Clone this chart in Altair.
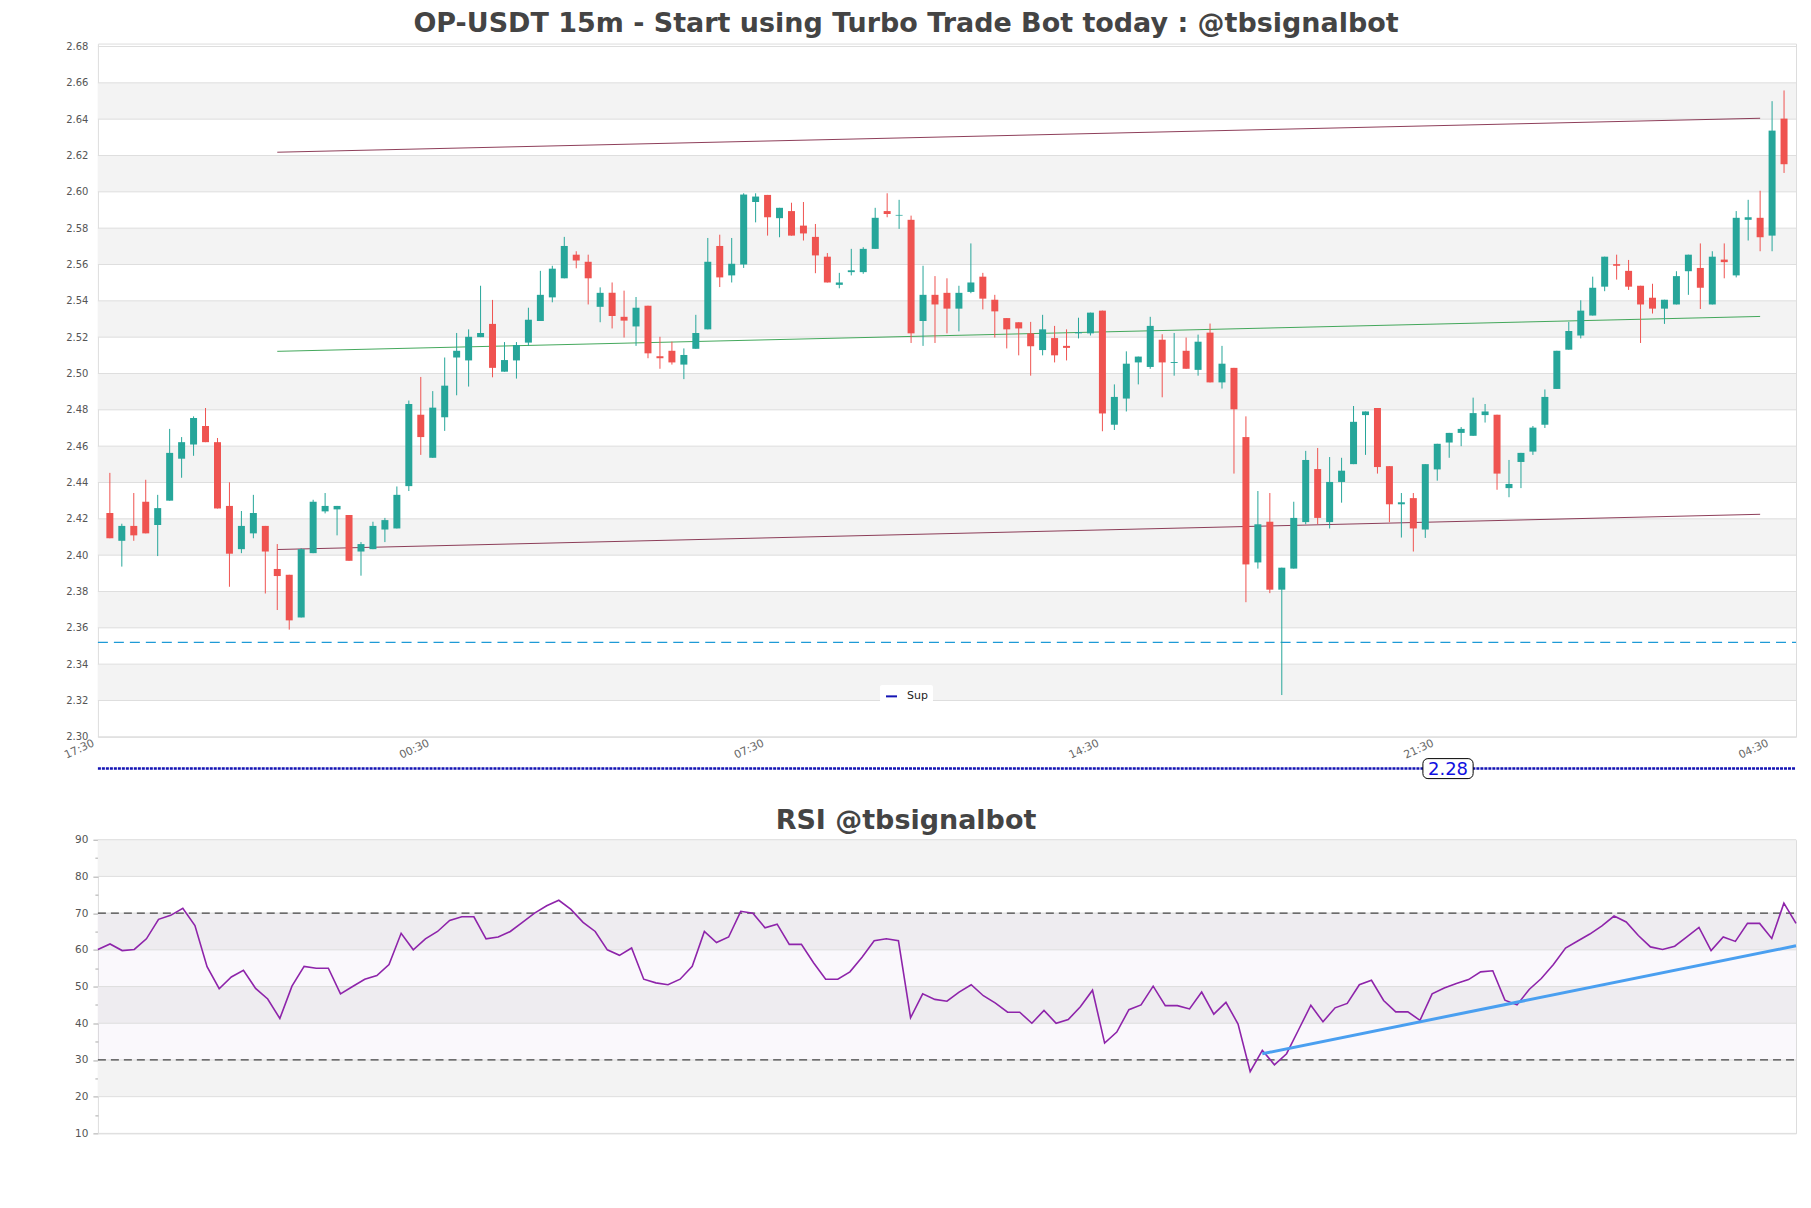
import altair as alt
import pandas as pd

TITLE = "OP-USDT 15m - Start using Turbo Trade Bot today : @tbsignalbot"
RSI_TITLE = "RSI @tbsignalbot"

opens = [2.4232, 2.4079, 2.4161, 2.4294, 2.4166, 2.4300, 2.4531, 2.4609, 2.4711, 2.4622,
         2.4271, 2.4033, 2.4120, 2.4161, 2.3924, 2.3892, 2.3657, 2.4011, 2.4241, 2.4252,
         2.4221, 2.4020, 2.4033, 2.4141, 2.4147, 2.4380, 2.4773, 2.4536, 2.4759, 2.5088,
         2.5072, 2.5200, 2.5273, 2.5010, 2.5072, 2.5170, 2.5289, 2.5419, 2.5524, 2.5654,
         2.5615, 2.5367, 2.5444, 2.5312, 2.5259, 2.5373, 2.5095, 2.5125, 2.5049, 2.5136,
         2.5243, 2.5702, 2.5540, 2.5600, 2.5944, 2.5983, 2.5855, 2.5894, 2.5814, 2.5752,
         2.5643, 2.5488, 2.5558, 2.5558, 2.5686, 2.5894, 2.5869, 2.5846, 2.5289, 2.5433,
         2.5444, 2.5357, 2.5449, 2.5533, 2.5406, 2.5305, 2.5282, 2.5221, 2.5129, 2.5195,
         2.5152, 2.5221, 2.5221, 2.5346, 2.4718, 2.4862, 2.5061, 2.5036, 2.5186, 2.5058,
         2.5125, 2.5020, 2.5225, 2.4951, 2.5031, 2.4650, 2.3960, 2.4184, 2.3810, 2.3926,
         2.4182, 2.4474, 2.4182, 2.4403, 2.4501, 2.4771, 2.4810, 2.4490, 2.4280, 2.4314,
         2.4141, 2.4472, 2.4620, 2.4673, 2.4657, 2.4771, 2.4773, 2.4369, 2.4513, 2.4570,
         2.4718, 2.4915, 2.5131, 2.5209, 2.5319, 2.5478, 2.5602, 2.5565, 2.5483, 2.5417,
         2.5357, 2.5380, 2.5563, 2.5581, 2.5380, 2.5627, 2.5540, 2.5846, 2.5857, 2.5759,
         2.6403]
highs = [2.4453, 2.4173, 2.4342, 2.4415, 2.4332, 2.4695, 2.4650, 2.4764, 2.4810, 2.4645,
         2.4401, 2.4243, 2.4332, 2.4161, 2.4061, 2.3892, 2.4038, 2.4305, 2.4342, 2.4271,
         2.4221, 2.4072, 2.4184, 2.4205, 2.4378, 2.4851, 2.4981, 2.4903, 2.5088, 2.5223,
         2.5243, 2.5483, 2.5405, 2.5173, 2.5173, 2.5362, 2.5565, 2.5593, 2.5752, 2.5673,
         2.5654, 2.5474, 2.5501, 2.5456, 2.5421, 2.5373, 2.5202, 2.5175, 2.5138, 2.5323,
         2.5746, 2.5764, 2.5746, 2.5992, 2.5992, 2.5983, 2.5912, 2.5940, 2.5944, 2.5823,
         2.5663, 2.5554, 2.5686, 2.5695, 2.5912, 2.5992, 2.5956, 2.5869, 2.5593, 2.5536,
         2.5524, 2.5483, 2.5716, 2.5554, 2.5433, 2.5305, 2.5282, 2.5284, 2.5323, 2.5262,
         2.5243, 2.5307, 2.5335, 2.5346, 2.4940, 2.5122, 2.5093, 2.5312, 2.5216, 2.5223,
         2.5198, 2.5214, 2.5275, 2.5152, 2.5031, 2.4764, 2.4353, 2.4342, 2.3931, 2.4294,
         2.4574, 2.4590, 2.4540, 2.4536, 2.4821, 2.4791, 2.4810, 2.4490, 2.4342, 2.4342,
         2.4501, 2.4613, 2.4673, 2.4705, 2.4867, 2.4832, 2.4773, 2.4524, 2.4563, 2.4711,
         2.4912, 2.5125, 2.5284, 2.5403, 2.5533, 2.5643, 2.5654, 2.5625, 2.5483, 2.5494,
         2.5406, 2.5563, 2.5654, 2.5716, 2.5673, 2.5716, 2.5894, 2.5956, 2.6006, 2.6499,
         2.6558]
lows = [2.4093, 2.3937, 2.4079, 2.4120, 2.3995, 2.4300, 2.4426, 2.4547, 2.4622, 2.4257,
        2.3826, 2.4011, 2.4093, 2.3789, 2.3698, 2.3590, 2.3657, 2.4011, 2.4230, 2.4109,
        2.3969, 2.3887, 2.4033, 2.4072, 2.4147, 2.4353, 2.4552, 2.4536, 2.4684, 2.4880,
        2.4928, 2.5200, 2.4979, 2.5010, 2.4972, 2.5152, 2.5289, 2.5392, 2.5524, 2.5579,
        2.5380, 2.5282, 2.5248, 2.5198, 2.5152, 2.5084, 2.5026, 2.5049, 2.4969, 2.5136,
        2.5243, 2.5476, 2.5501, 2.5581, 2.5832, 2.5759, 2.5750, 2.5759, 2.5732, 2.5552,
        2.5501, 2.5469, 2.5540, 2.5549, 2.5686, 2.5860, 2.5796, 2.5168, 2.5152, 2.5168,
        2.5221, 2.5232, 2.5442, 2.5353, 2.5198, 2.5138, 2.5100, 2.4988, 2.5100, 2.5061,
        2.5072, 2.5193, 2.5209, 2.4682, 2.4689, 2.4791, 2.4940, 2.5026, 2.4869, 2.4988,
        2.5026, 2.4988, 2.4951, 2.4917, 2.4449, 2.3741, 2.3926, 2.3791, 2.3230, 2.3926,
        2.4170, 2.4170, 2.4147, 2.4289, 2.4501, 2.4552, 2.4449, 2.4182, 2.4097, 2.4020,
        2.4095, 2.4410, 2.4536, 2.4600, 2.4657, 2.4730, 2.4360, 2.4319, 2.4369, 2.4552,
        2.4700, 2.4915, 2.5131, 2.5193, 2.5319, 2.5453, 2.5517, 2.5460, 2.5168, 2.5330,
        2.5273, 2.5380, 2.5433, 2.5355, 2.5380, 2.5524, 2.5529, 2.5732, 2.5673, 2.5673,
        2.6104]
closes = [2.4093, 2.4161, 2.4109, 2.4120, 2.4259, 2.4563, 2.4622, 2.4755, 2.4622, 2.4257,
          2.4008, 2.4161, 2.4232, 2.4020, 2.3885, 2.3641, 2.4033, 2.4294, 2.4271, 2.4271,
          2.3969, 2.4061, 2.4161, 2.4193, 2.4332, 2.4832, 2.4650, 2.4812, 2.4933, 2.5125,
          2.5202, 2.5223, 2.5031, 2.5074, 2.5157, 2.5296, 2.5433, 2.5577, 2.5702, 2.5622,
          2.5524, 2.5444, 2.5316, 2.5291, 2.5362, 2.5111, 2.5084, 2.5061, 2.5102, 2.5223,
          2.5615, 2.5529, 2.5604, 2.5985, 2.5974, 2.5860, 2.5912, 2.5759, 2.5771, 2.5650,
          2.5501, 2.5501, 2.5568, 2.5686, 2.5857, 2.5878, 2.5873, 2.5221, 2.5433, 2.5380,
          2.5357, 2.5444, 2.5501, 2.5412, 2.5342, 2.5243, 2.5248, 2.5150, 2.5243, 2.5100,
          2.5141, 2.5227, 2.5335, 2.4780, 2.4871, 2.5054, 2.5093, 2.5262, 2.5061, 2.5063,
          2.5026, 2.5175, 2.4951, 2.5054, 2.4803, 2.3949, 2.4170, 2.3810, 2.3931, 2.4205,
          2.4524, 2.4205, 2.4403, 2.4465, 2.4734, 2.4791, 2.4485, 2.4280, 2.4291, 2.4147,
          2.4501, 2.4613, 2.4673, 2.4695, 2.4782, 2.4791, 2.4449, 2.4392, 2.4563, 2.4702,
          2.4871, 2.5125, 2.5234, 2.5346, 2.5472, 2.5643, 2.5593, 2.5478, 2.5380, 2.5357,
          2.5406, 2.5536, 2.5654, 2.5472, 2.5643, 2.5613, 2.5857, 2.5860, 2.5750, 2.6337,
          2.6152]

rsi_values = [60.1, 61.6, 59.8, 60.1, 63.0, 68.3, 69.4, 71.3, 66.6, 55.4,
              49.4, 52.6, 54.4, 49.5, 46.6, 41.3, 50.1, 55.5, 55.0, 55.0,
              48.0, 50.0, 52.0, 53.0, 56.0, 64.5, 60.0, 63.0, 65.0, 68.0,
              69.0, 69.0, 63.0, 63.5, 65.0, 67.5, 70.0, 72.0, 73.5, 71.0,
              67.5, 65.0, 60.0, 58.5, 60.5, 52.0, 51.0, 50.5, 52.0, 55.5,
              65.0, 62.0, 63.5, 70.5, 70.0, 66.0, 67.0, 61.5, 61.5, 56.5,
              52.0, 52.0, 54.0, 58.0, 62.5, 63.0, 62.5, 41.5, 48.0, 46.5,
              46.0, 48.5, 50.5, 47.5, 45.5, 43.0, 43.0, 40.0, 43.5, 40.0,
              41.0, 44.5, 49.0, 34.6, 37.6, 43.7, 45.0, 50.1, 44.8, 44.8,
              43.9, 48.5, 42.5, 45.7, 39.8, 26.8, 32.6, 28.7, 31.7, 38.3,
              44.9, 40.4, 44.2, 45.4, 50.5, 51.7, 46.2, 43.1, 43.1, 40.8,
              48.0, 49.6, 50.8, 51.9, 54.0, 54.3, 46.3, 45.0, 49.2, 52.2,
              56.0, 60.5, 62.4, 64.3, 66.5, 69.2, 67.6, 63.9, 60.8, 60.1,
              61.0, 63.5, 66.1, 59.8, 63.5, 62.3, 67.2, 67.2, 63.1, 72.7,
              67.2]

time_tick_pos = [-1, 27, 55, 83, 111, 139]
time_tick_labels = ["17:30", "00:30", "07:30", "14:30", "21:30", "04:30"]

price_ticks = [2.30, 2.32, 2.34, 2.36, 2.38, 2.40, 2.42, 2.44, 2.46, 2.48,
               2.50, 2.52, 2.54, 2.56, 2.58, 2.60, 2.62, 2.64, 2.66, 2.68]
price_band_lows = [2.32, 2.36, 2.40, 2.44, 2.48, 2.52, 2.56, 2.60, 2.64]
price_domain = [2.30, 2.6816]

upper_line_i = [14, 138]
upper_line_p = [2.6218, 2.6405]
mid_line_i = [14, 138]
mid_line_p = [2.5122, 2.5314]
lower_line_i = [14, 138]
lower_line_p = [2.4031, 2.4225]

sup_level = 2.352
low_level = 2.2825
low_label = "2.28"
low_label_i = 111.9

rsi_ticks = [10, 15, 20, 25, 30, 35, 40, 45, 50, 55, 60, 65, 70, 75, 80, 85, 90]
rsi_grid = [10, 20, 30, 40, 50, 60, 70, 80, 90]
rsi_band_lows = [20, 40, 60, 80]
rsi_levels = [30, 70]
rsi_trend_i = [96, 140]
rsi_trend_v = [31.7, 61.1]

W = 1700
H_MAIN = 694
H_RSI = 294
UP = "#26a69a"
DOWN = "#ef5350"

n = len(closes)
candles = pd.DataFrame({"i": list(range(n)), "open": opens, "high": highs,
                        "low": lows, "close": closes})

xs_main = alt.Scale(domain=[-1, 141], nice=False, zero=False, padding=0)
ys_main = alt.Scale(domain=price_domain, nice=False, zero=False, padding=0)

label_expr = " : ".join(
    f"datum.value == {p} ? '{l}'" for p, l in zip(time_tick_pos, time_tick_labels)
) + " : ''"

x_axis_main = alt.Axis(values=time_tick_pos, tickCount=len(time_tick_pos) * 4,
                       labelExpr=label_expr, labelAngle=-25,
                       labelAlign="right", labelBaseline="top", ticks=False,
                       domain=False, grid=False, labelFontSize=11, labelColor="#666",
                       labelPadding=0, labelOffset=-7, labelOverlap=False, title=None,
                       labelFont="DejaVu Sans")
y_axis_main = alt.Axis(values=price_ticks, tickCount=len(price_ticks) * 4,
                       format=".2f", grid=False, ticks=False,
                       domain=False, labelPadding=10, labelFontSize=10, labelColor="#555",
                       labelOverlap=False, minExtent=40, maxExtent=40, title=None,
                       labelFont="DejaVu Sans")


def py(field):
    return alt.Y(field, scale=ys_main, axis=y_axis_main)


def px(field):
    return alt.X(field, scale=xs_main, axis=x_axis_main)


bands = alt.Chart(pd.DataFrame({"lo": price_band_lows})).transform_calculate(
    hi="datum.lo + 0.02"
).mark_rect(color="#f3f3f3").encode(
    x=alt.value(0), x2=alt.value(W), y=py("lo:Q"), y2="hi:Q",
)

grid = alt.Chart(pd.DataFrame({"p": price_ticks})).mark_rule(
    color="#dedede", strokeWidth=1
).encode(y=py("p:Q"), x=alt.value(0), x2=alt.value(W))

sup = alt.Chart(pd.DataFrame({"p": [sup_level]})).mark_rule(
    color="#1e9ad6", strokeWidth=1.3, strokeDash=[10, 6]
).encode(y=py("p:Q"), x=alt.value(0), x2=alt.value(W))


def trend(ix, pp, color, opacity):
    return alt.Chart(pd.DataFrame({"i": ix, "p": pp})).mark_line(
        color=color, strokeWidth=1, opacity=opacity
    ).encode(x=px("i:Q"), y=py("p:Q"))


upper = trend(upper_line_i, upper_line_p, "#7a1c3c", 0.85)
mid = trend(mid_line_i, mid_line_p, "#2f9e4a", 0.9)
lower = trend(lower_line_i, lower_line_p, "#7a1c3c", 0.85)

candle_color = alt.condition("datum.close >= datum.open", alt.value(UP), alt.value(DOWN))

wicks = alt.Chart(candles).mark_rule(strokeWidth=1).encode(
    x=px("i:Q"), y=py("low:Q"), y2="high:Q", color=candle_color,
)
bodies = alt.Chart(candles).mark_bar(size=7).encode(
    x=px("i:Q"), y=py("open:Q"), y2="close:Q", color=candle_color,
)

low_df = pd.DataFrame({"p": [low_level], "name": ["Sup"]})
low_line = alt.Chart(low_df).mark_rule(strokeWidth=2.5, strokeDash=[3, 1]).encode(
    y=py("p:Q"),
    x=alt.value(0), x2=alt.value(W),
    color=alt.Color("name:N", scale=alt.Scale(domain=["Sup"], range=["#1414b4"]),
                    legend=alt.Legend(orient="none", legendX=783, legendY=642,
                                      title=None, symbolType="stroke",
                                      symbolStrokeWidth=2, symbolSize=121,
                                      labelFontSize=11, labelColor="#222",
                                      labelFont="DejaVu Sans", labelOffset=9,
                                      fillColor="white", padding=5, cornerRadius=2)),
)

box_df = pd.DataFrame({"i": [low_label_i], "p": [low_level], "label": [low_label]})
low_box = alt.Chart(box_df).transform_calculate(
    i1="datum.i - 2.1", i2="datum.i + 2.1", p1="datum.p - 0.0055", p2="datum.p + 0.0055"
).mark_rect(fill="white", stroke="black", strokeWidth=1, cornerRadius=5).encode(
    x=px("i1:Q"), x2="i2:Q", y=py("p1:Q"), y2="p2:Q",
)
low_text = alt.Chart(box_df).mark_text(
    color="#1010e0", fontSize=18, font="DejaVu Sans", baseline="middle", align="center", dy=1
).encode(x=px("i:Q"), y=py("p:Q"), text="label:N")

main = alt.layer(
    bands, grid, sup, upper, mid, lower, wicks, bodies, low_line, low_box, low_text
).properties(
    width=W, height=H_MAIN,
    title=alt.TitleParams(TITLE, fontSize=27, font="DejaVu Sans", fontWeight="bold",
                          color="#444444", dx=-41, offset=4, anchor="middle"),
)

# RSI panel
xs_rsi = alt.Scale(domain=[0, 140], nice=False, zero=False, padding=0)
ys_rsi = alt.Scale(domain=[10, 90], nice=False, zero=False, padding=0)
y_axis_rsi = alt.Axis(values=rsi_ticks, tickCount=len(rsi_ticks) * 4,
                      labelExpr="datum.value % 10 == 0 ? datum.label : ''",
                      tickSize={"condition": {"test": "datum.value % 10 != 0", "value": 3},
                                "value": 5},
                      tickColor="#aaaaaa", grid=False, domain=False, labelPadding=5,
                      labelFontSize=10.5, labelColor="#555", labelOverlap=False,
                      minExtent=40, maxExtent=40, title=None, labelFont="DejaVu Sans")


def ry(field):
    return alt.Y(field, scale=ys_rsi, axis=y_axis_rsi)


def rx(field):
    return alt.X(field, scale=xs_rsi, axis=None)


rsi_bands = alt.Chart(pd.DataFrame({"lo": rsi_band_lows})).transform_calculate(
    hi="datum.lo + 10"
).mark_rect(color="#f3f3f3").encode(
    x=alt.value(0), x2=alt.value(W), y=ry("lo:Q"), y2="hi:Q",
)
rsi_hatch = alt.Chart(pd.DataFrame({"lo": [rsi_levels[0]], "hi": [rsi_levels[1]]})).mark_rect(
    color="#a888c8", opacity=0.06
).encode(x=alt.value(0), x2=alt.value(W), y=ry("lo:Q"), y2="hi:Q")
rsi_gridlines = alt.Chart(pd.DataFrame({"v": rsi_grid})).mark_rule(
    color="#dedede", strokeWidth=1
).encode(y=ry("v:Q"), x=alt.value(0), x2=alt.value(W))
rsi_lvl = alt.Chart(pd.DataFrame({"v": rsi_levels})).mark_rule(
    color="#444444", strokeWidth=1.2, strokeDash=[8, 5]
).encode(y=ry("v:Q"), x=alt.value(0), x2=alt.value(W))
rsi_df = pd.DataFrame({"i": list(range(len(rsi_values))), "rsi": rsi_values})
rsi_line = alt.Chart(rsi_df).mark_line(color="#8e24aa", strokeWidth=1.6).encode(
    x=rx("i:Q"), y=ry("rsi:Q"),
)
rsi_tr = alt.Chart(pd.DataFrame({"i": rsi_trend_i, "v": rsi_trend_v})).mark_line(
    color="#4a9ff0", strokeWidth=3
).encode(x=rx("i:Q"), y=ry("v:Q"))

rsi = alt.layer(rsi_bands, rsi_hatch, rsi_gridlines, rsi_lvl, rsi_line, rsi_tr).properties(
    width=W, height=H_RSI,
    title=alt.TitleParams(RSI_TITLE, fontSize=27, font="DejaVu Sans", fontWeight="bold",
                          color="#444444", dx=-41, offset=0, anchor="middle"),
)

chart = alt.vconcat(main, rsi, spacing=103, bounds="flush").resolve_scale(
    color="independent", x="independent", y="independent"
).resolve_legend(color="independent").properties(
    padding={"left": 49, "top": 0, "right": 0, "bottom": 5},
    background="white",
).configure_view(stroke="#dddddd", strokeWidth=1)

chart.save("out.html", embed_options={"renderer": "svg", "actions": False})
